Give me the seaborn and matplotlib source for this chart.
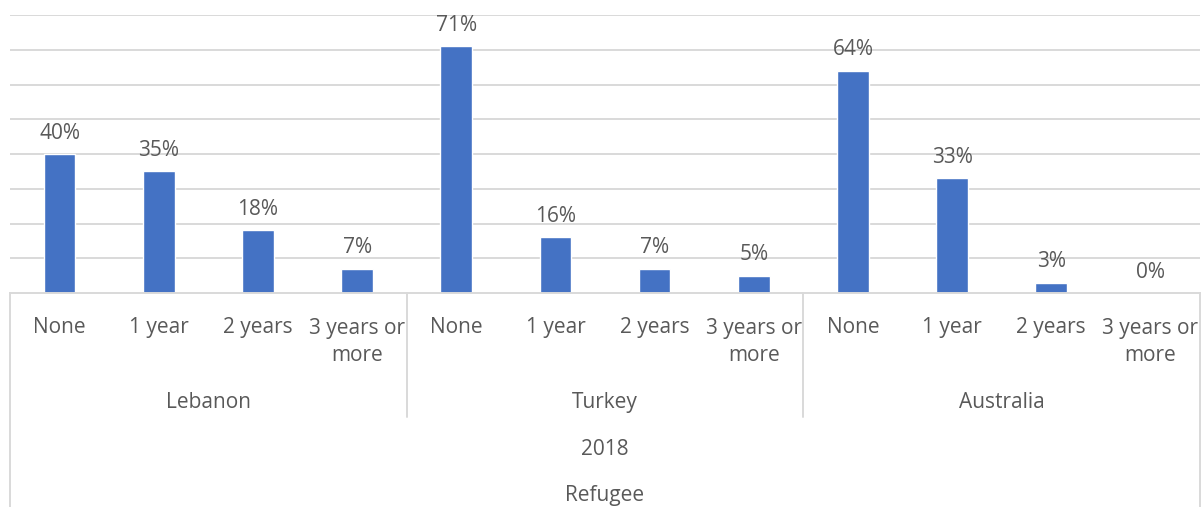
import matplotlib
matplotlib.use("Agg")
import matplotlib.pyplot as plt
import seaborn as sns
import pandas as pd
from matplotlib.transforms import blended_transform_factory

# ---- data ----
countries = ["Lebanon", "Turkey", "Australia"]
durations = ["None", "1 year", "2 years", "3 years or more"]
duration_labels = ["None", "1 year", "2 years", "3 years or\nmore"]
lebanon = [0.40, 0.35, 0.18, 0.07]
turkey = [0.71, 0.16, 0.07, 0.05]
australia = [0.64, 0.33, 0.03, 0.00]
year_label = "2018"
group_label = "Refugee"

values_by_country = {"Lebanon": lebanon, "Turkey": turkey, "Australia": australia}
rows = []
for c in countries:
    for d, v in zip(durations, values_by_country[c]):
        rows.append({"key": f"{c}|{d}", "country": c, "duration": d, "value": v})
df = pd.DataFrame(rows)
order = list(df["key"])

# ---- style ----
sns.set_theme(style="white")
plt.rcParams["font.family"] = ["Open Sans", "DejaVu Sans"]
TXT = "#595959"
GRID = "#D9D9D9"
BAR = "#4472C4"
FS = 15

W, H = 1204, 507
fig = plt.figure(figsize=(W / 100, H / 100), dpi=100)
x0, x1, ytop, ybase = 10, 1200, 15, 293
ax = fig.add_axes([x0 / W, 1 - ybase / H, (x1 - x0) / W, (ybase - ytop) / H])

sns.barplot(data=df, x="key", y="value", order=order, color=BAR,
            saturation=1, width=0.32, ax=ax, errorbar=None)

ax.set_xlim(-0.5, len(order) - 0.5)
ax.set_ylim(0, 0.8)
ax.set_yticks([i / 10 for i in range(1, 9)])
ax.yaxis.grid(True, color=GRID, lw=1.4)
ax.set_axisbelow(True)
ax.tick_params(left=False, labelleft=False, bottom=False, labelbottom=False)
ax.set_xlabel("")
ax.set_ylabel("")
for s in ["top", "left", "right"]:
    ax.spines[s].set_visible(False)
ax.spines["bottom"].set_color(GRID)
ax.spines["bottom"].set_linewidth(1.4)

# data labels
for i, v in enumerate(df["value"]):
    ax.annotate(f"{v:.0%}", (i, v), xytext=(0, 7.5), textcoords="offset points",
                ha="center", va="bottom", fontsize=FS, color=TXT)

# multi-level category axis
tr = blended_transform_factory(ax.transData, fig.transFigure)
def fy(px):
    return 1 - px / H

n_d = len(durations)
for ci, c in enumerate(countries):
    for di, lab in enumerate(duration_labels):
        i = ci * n_d + di
        if "\n" in lab:
            ax.text(i, fy(342), lab, transform=tr, ha="center", va="center",
                    fontsize=FS, color=TXT, linespacing=1.4, multialignment="center")
        else:
            ax.text(i, fy(327.5), lab, transform=tr, ha="center", va="center",
                    fontsize=FS, color=TXT)
    center = ci * n_d + (n_d - 1) / 2
    ax.text(center, fy(402.5), c, transform=tr, ha="center", va="center",
            fontsize=FS, color=TXT)

mid = (len(order) - 1) / 2
ax.text(mid, fy(449.5), year_label, transform=tr, ha="center", va="center",
        fontsize=FS, color=TXT)
ax.text(mid, fy(495.5), group_label, transform=tr, ha="center", va="center",
        fontsize=FS, color=TXT)

# separator lines
for ci in range(1, len(countries)):
    xs = ci * n_d - 0.5
    ax.plot([xs, xs], [fy(ybase), fy(417)], transform=tr, color=GRID, lw=1.4, clip_on=False)
for xs in [-0.5, len(order) - 0.5]:
    ax.plot([xs, xs], [fy(ybase), fy(H + 5)], transform=tr, color=GRID, lw=1.4, clip_on=False)

fig.savefig("out.png", dpi=100, facecolor="white")
